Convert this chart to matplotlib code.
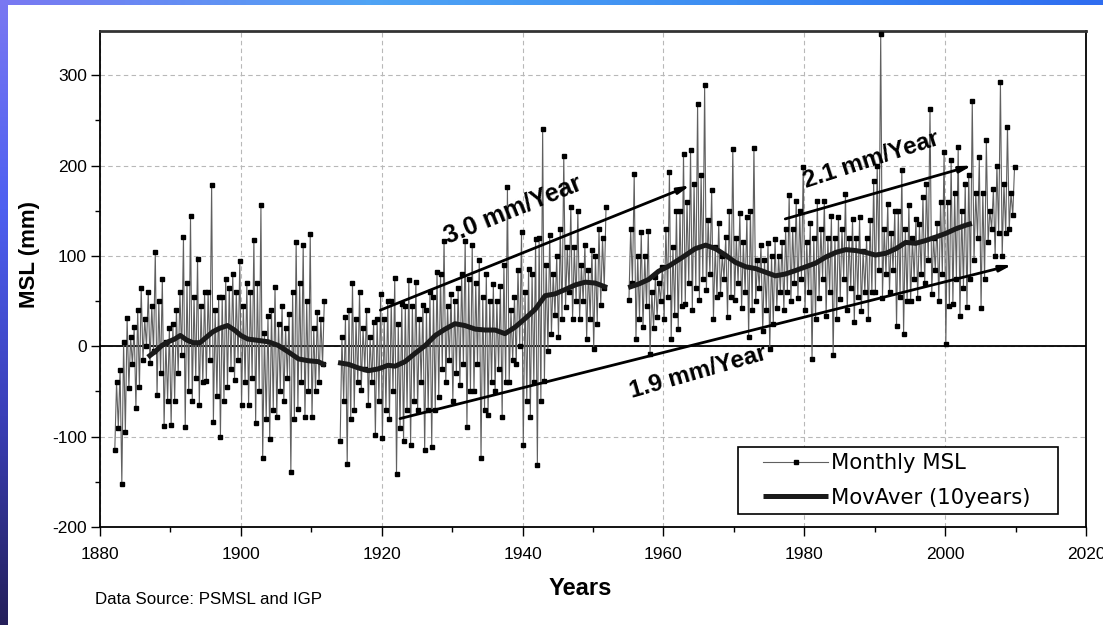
import numpy as np
import matplotlib
matplotlib.use("Agg")
import matplotlib.pyplot as plt
from matplotlib.ticker import MultipleLocator
from matplotlib.colors import LinearSegmentedColormap
from matplotlib.patches import Rectangle

plt.rcParams['font.family'] = ['Liberation Sans', 'DejaVu Sans']
plt.rcParams['axes.unicode_minus'] = False

# ---------------- data ----------------
# per year: main extremes (hi/lo) and secondary extremes (hi2/lo2) of the monthly series
seg1_years = list(range(1882, 1912))
seg1_hi = [-26, 31, 21, 65, 60, 104, 75, 20, 40, 121, 144, 97, 60, 179, 55, 75, 80, 94, 70, 118,
           156, 33, 66, 45, 36, 115, 112, 124, 38, 50]
seg1_lo = [-115, -152, -46, -68, -15, -19, -54, -88, -87, -30, -89, -60, -65, -38, -84, -100, -45, -37, -65, -65,
           -85, -124, -103, -78, -60, -139, -69, -78, -78, -40]
seg1_hi2 = [-40, 5, 10, 40, 30, 45, 50, 5, 25, 60, 70, 55, 45, 60, 40, 55, 65, 60, 45, 60,
            70, 15, 40, 25, 20, 60, 70, 50, 20, 30]
seg1_lo2 = [-90, -95, -20, -45, 0, -5, -30, -60, -60, -10, -50, -35, -40, -15, -55, -60, -25, -15, -40, -35,
            -50, -80, -70, -50, -35, -80, -40, -50, -50, -20]

seg2_years = list(range(1914, 1952))
seg2_hi = [32, 70, 60, 40, 27, 58, 50, 76, 47, 73, 71, 46, 60, 82, 117, 58, 65, 117, 112, 95,
           80, 69, 67, 176, 55, 126, 86, 119, 241, 123, 100, 211, 154, 150, 112, 107, 130, 154]
seg2_lo = [-105, -130, -70, -48, -65, -98, -102, -80, -141, -105, -109, -70, -115, -111, -56, -40, -60, -43, -89, -50,
           -124, -76, -50, -78, -40, -20, -109, -78, -131, -38, 14, 10, 43, 30, 30, 8, -3, 46]
seg2_hi2 = [10, 40, 30, 20, 10, 30, 30, 50, 25, 45, 45, 30, 40, 55, 80, 45, 50, 80, 75, 70,
            55, 50, 50, 90, 40, 85, 60, 80, 120, 90, 80, 130, 110, 110, 90, 85, 100, 120]
seg2_lo2 = [-60, -80, -40, -25, -40, -60, -70, -50, -90, -70, -60, -40, -70, -70, -25, -15, -30, -20, -50, -20,
            -70, -40, -25, -40, -15, 0, -60, -40, -60, -5, 35, 30, 60, 50, 50, 30, 25, 65]

seg3_years = list(range(1955, 2010))
seg3_hi = [191, 126, 128, 77, 88, 193, 150, 213, 217, 268, 289, 173, 136, 121, 218, 147, 143, 220, 112, 114,
           119, 116, 167, 161, 198, 136, 161, 161, 144, 143, 169, 141, 143, 120, 183, 346, 158, 150, 195, 156,
           141, 165, 263, 136, 215, 206, 221, 180, 272, 209, 228, 174, 292, 243, 198]
seg3_lo = [51, 8, 21, -8, 32, 30, 8, 19, 47, 40, 51, 62, 30, 58, 32, 51, 42, 10, 50, 17,
           -3, 42, 40, 50, 54, 40, -14, 54, 34, -10, 52, 40, 27, 39, 30, 60, 54, 60, 23, 14,
           50, 54, 70, 58, 50, 3, 47, 33, 43, 95, 42, 115, 100, 100, 130]
seg3_hi2 = [130, 100, 100, 60, 70, 130, 110, 150, 160, 180, 190, 140, 110, 100, 150, 120, 115, 150, 95, 95,
            100, 100, 130, 130, 150, 115, 120, 130, 120, 120, 130, 120, 120, 105, 140, 200, 130, 125, 150, 130,
            120, 135, 180, 120, 160, 160, 170, 150, 190, 170, 170, 150, 200, 180, 170]
seg3_lo2 = [70, 30, 45, 20, 50, 55, 35, 45, 70, 65, 75, 80, 55, 75, 55, 70, 60, 40, 65, 40,
            25, 60, 60, 70, 75, 60, 30, 75, 60, 30, 75, 65, 55, 60, 60, 85, 80, 85, 55, 50,
            75, 80, 95, 85, 80, 45, 75, 65, 75, 120, 75, 130, 125, 125, 145]

# 10-year moving average
ma1_years = [1886.8, 1887.8, 1888.8, 1889.7, 1890.6, 1891.4, 1892.3, 1893.2, 1894.2, 1895.1, 1896.0, 1897.0,
             1898.1, 1899.1, 1900.0, 1901.0, 1902.0, 1903.9, 1905.3, 1906.7, 1908.2, 1909.6, 1911.0, 1912.0]
ma1_vals = [-12, -6, 1, 5, 8, 12, 7, 4, 4, 10, 16, 20, 23, 18, 12, 8, 7, 5, 1, -6, -14, -16, -17, -21]
ma2_years = [1913.8, 1915.3, 1916.7, 1918.1, 1919.5, 1920.9, 1921.9, 1923.3, 1924.7, 1926.2, 1927.6, 1929.0,
             1930.4, 1931.8, 1933.3, 1934.7, 1936.1, 1937.5, 1938.9, 1940.4, 1941.8, 1943.2, 1944.6, 1946.1,
             1947.5, 1948.9, 1950.3, 1952.0]
ma2_vals = [-18, -20, -24, -27, -25, -21, -22, -17, -8, 1, 12, 19, 25, 23, 19, 18, 18, 14, 21, 31, 41, 56,
            58, 63, 68, 71, 70, 65]
ma3_years = [1955.0, 1956.5, 1957.9, 1959.3, 1960.8, 1962.6, 1964.5, 1966.0, 1967.4, 1968.8, 1970.2, 1971.7,
             1973.1, 1974.5, 1975.9, 1977.3, 1978.8, 1980.2, 1981.6, 1983.1, 1984.5, 1985.9, 1987.3, 1988.7,
             1990.1, 1991.6, 1993.0, 1994.4, 1995.8, 1997.2, 1998.7, 2000.1, 2001.5, 2002.9, 2003.8]
ma3_vals = [65, 69, 74, 83, 89, 98, 108, 112, 108, 101, 93, 88, 86, 82, 78, 80, 84, 88, 92, 99, 104, 107,
            106, 104, 101, 103, 108, 115, 114, 117, 121, 125, 130, 134, 136]

# trend lines: (start year, start value, end year, end value)
trend_30 = (1919.8, 40, 1963.8, 178)
trend_19 = (1922.6, -80, 2009.5, 90)
trend_21 = (1977.3, 141, 2003.8, 200)
trend_labels = ["3.0 mm/Year", "1.9 mm/Year", "2.1 mm/Year"]

y_ticks = [-200, -100, 0, 100, 200, 300]
y_ticklabels = ["-200", "-100", "0", "100", "200", "300"]
x_ticks = [1880, 1900, 1920, 1940, 1960, 1980, 2000, 2020]


def build_series(years, hi, lo, hi2, lo2):
    t, v = [], []
    for y, h, l, h2, l2 in zip(years, hi, lo, hi2, lo2):
        t += [y + 0.1, y + 0.35, y + 0.6, y + 0.85]
        v += [l, h2, l2, h]
    return t, v


t_all, v_all = [], []
for args in [(seg1_years, seg1_hi, seg1_lo, seg1_hi2, seg1_lo2),
             (seg2_years, seg2_hi, seg2_lo, seg2_hi2, seg2_lo2),
             (seg3_years, seg3_hi, seg3_lo, seg3_hi2, seg3_lo2)]:
    t, v = build_series(*args)
    t_all += t + [np.nan]
    v_all += v + [np.nan]

ma_t = ma1_years + [np.nan] + ma2_years + [np.nan] + ma3_years
ma_v = ma1_vals + [np.nan] + ma2_vals + [np.nan] + ma3_vals

# ---------------- figure ----------------
fig = plt.figure(figsize=(11.03, 6.25), dpi=100)
fig.patch.set_facecolor('white')

# slide border decoration (gradient strips)
grad = np.linspace(0, 1, 256).reshape(-1, 1)
left_strip = fig.add_axes([0, 0, 8 / 1103, 1])
cm_left = LinearSegmentedColormap.from_list('l', ['#7a78f2', '#4d5ff0', '#3a3fb8', '#25205a'])
left_strip.imshow(grad, aspect='auto', cmap=cm_left, extent=[0, 1, 0, 1], origin='upper')
left_strip.axis('off')
top_strip = fig.add_axes([0, 1 - 5 / 625, 1, 5 / 625])
cm_top = LinearSegmentedColormap.from_list('t', ['#7a78f2', '#4fa4f5', '#3d8df2', '#2f6df0'])
top_strip.imshow(grad.T, aspect='auto', cmap=cm_top, extent=[0, 1, 0, 1])
top_strip.axis('off')

ax = fig.add_axes([100 / 1103, 98 / 625, 986 / 1103, 496 / 625])
ax.set_xlim(1880, 2020)
ax.set_ylim(-200, 349)

ax.grid(True, which='major', linestyle=(0, (4, 3)), color='#b8b8b8', linewidth=0.8)
ax.set_axisbelow(True)
ax.axhline(0, color='black', linewidth=1.3, zorder=2)

ax.plot(t_all, v_all, color='#606060', linewidth=0.8, marker='s', markersize=2.3,
        markerfacecolor='black', markeredgecolor='black', zorder=3, label='Monthly MSL')
ax.plot(ma_t, ma_v, color='#1a1a1a', linewidth=3.6, solid_capstyle='butt', zorder=4,
        label='MovAver (10years)')

for (x0, y0, x1, y1) in [trend_30, trend_19, trend_21]:
    ax.annotate('', xy=(x1, y1), xytext=(x0, y0),
                arrowprops=dict(arrowstyle='-|>,head_length=0.7,head_width=0.18', color='black',
                                linewidth=2.0, shrinkA=0, shrinkB=0), zorder=5)

ax.text(1938.7, 151, trend_labels[0], rotation=22, fontsize=18, fontweight='bold', ha='center', va='center')
ax.text(1965.0, -29, trend_labels[1], rotation=16, fontsize=17.5, fontweight='bold', ha='center', va='center')
ax.text(1989.5, 206, trend_labels[2], rotation=18, fontsize=17.5, fontweight='bold', ha='center', va='center')

ax.set_yticks(y_ticks)
ax.set_yticklabels(y_ticklabels)
ax.set_xticks(x_ticks)
ax.xaxis.set_minor_locator(MultipleLocator(10))
ax.yaxis.set_minor_locator(MultipleLocator(50))
ax.tick_params(axis='both', which='major', direction='out', length=6.5, width=1, labelsize=12.5, colors='black')
ax.tick_params(axis='both', which='minor', direction='out', length=3.5, width=1)
ax.tick_params(axis='x', which='major', pad=8)
ax.tick_params(axis='y', which='major', pad=3)
for s in ax.spines.values():
    s.set_linewidth(1.3)
ax.spines['top'].set_color('#333333')
ax.spines['top'].set_linewidth(2)

ax.set_xlabel('Years', fontsize=17, fontweight='bold')
ax.xaxis.label.set_va('center')
ax.xaxis.set_label_coords(0.487, -0.123)
ax.set_ylabel('MSL (mm)', fontsize=16, fontweight='bold')
ax.yaxis.label.set_va('center')
ax.yaxis.set_label_coords(-0.071, 0.55)

# legend: frame drawn as a rectangle, entries by ax.legend
ax.add_patch(Rectangle((0.647, 0.0262), 0.3246, 0.1351, transform=ax.transAxes, facecolor='white',
                       edgecolor='black', linewidth=1.2, zorder=6))
leg = ax.legend(loc='center left', bbox_to_anchor=(0.6724, 0.0937), borderaxespad=0, borderpad=0,
                frameon=False, prop={'family': 'DejaVu Sans', 'size': 15.2}, handlelength=3.1,
                handletextpad=0.12, labelspacing=0.68, numpoints=1)
leg.set_zorder(7)

fig.text(95 / 1103, 1 - 600 / 625, 'Data Source: PSMSL and IGP', fontsize=12.2, ha='left', va='center')

fig.savefig('out.png', dpi=100, facecolor='white')
